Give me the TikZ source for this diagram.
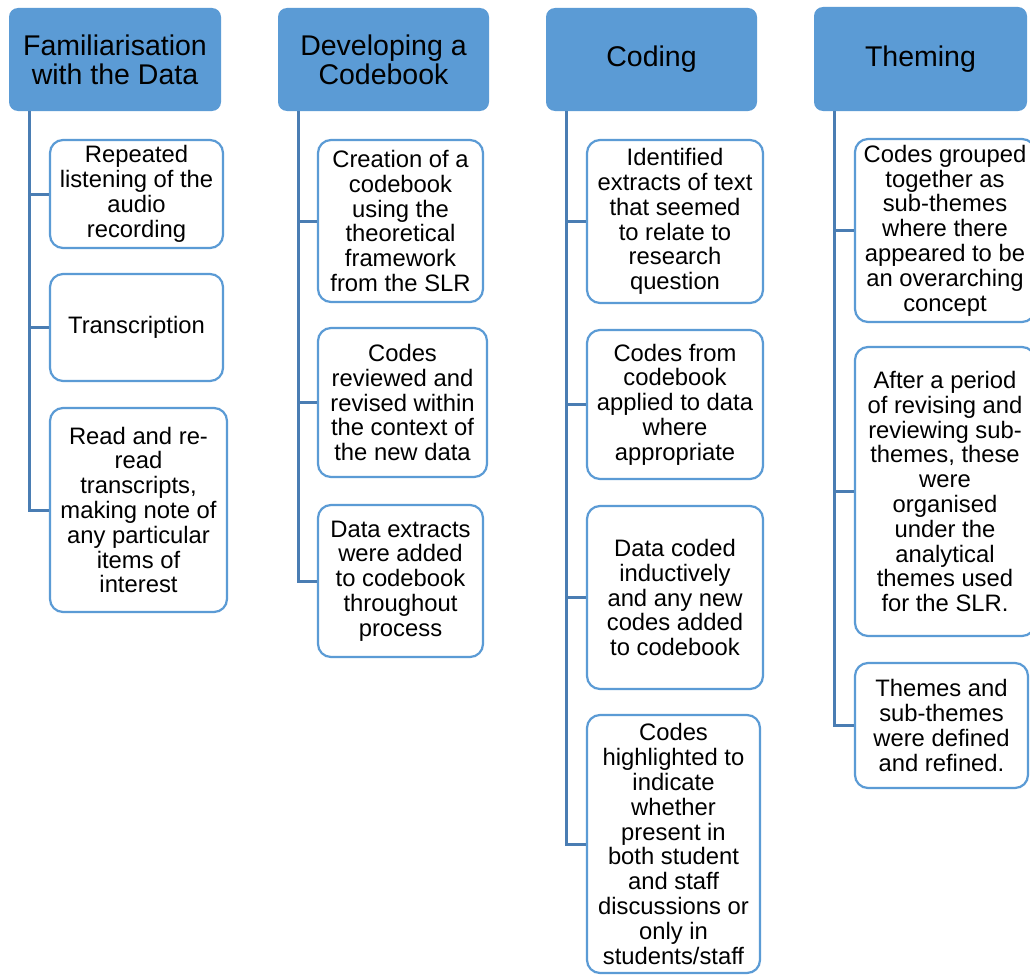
\documentclass[tikz,border=0pt]{standalone}
\usepackage{fontspec}
\setmainfont{Liberation Sans}
\definecolor{hdrc}{HTML}{5B9BD5}
\definecolor{brdc}{HTML}{5B9BD5}
\definecolor{lnkc}{HTML}{4A7DB3}
\tikzset{
  hdr/.style={fill=hdrc, draw=none, rounded corners=9pt, inner sep=0pt, align=center,
    font=\fontsize{28.5}{29}\selectfont, text=black},
  sub/.style={fill=white, draw=brdc, line width=2.2pt, rounded corners=13pt, inner sep=0pt,
    align=center, font=\fontsize{23.8}{24.8}\selectfont, text=black},
  conn/.style={draw=lnkc, line width=3pt},
}
\begin{document}
\begin{tikzpicture}[x=1pt,y=-1pt]
\clip (0,0) rectangle (1030,974);
\fill[white] (0,0) rectangle (1030,974);
% trunk x positions
\coordinate (t1) at (29,0);
\coordinate (t2) at (298,0);
\coordinate (t3) at (566,0);
\coordinate (t4) at (834,0);
% headers
\node[hdr, minimum width=212pt, minimum height=103pt] (h1) at (115,59.5) {Familiarisation\\with the Data};
\node[hdr, minimum width=211pt, minimum height=103pt] (h2) at (383.5,59.5) {Developing a\\Codebook};
\node[hdr, minimum width=211pt, minimum height=103pt] (h3) at (651.5,59.5) {\raisebox{-3pt}{Coding}};
\node[hdr, minimum width=213pt, minimum height=104pt] (h4) at (920.5,59) {\raisebox{-3pt}{Theming}};
% column 1
\node[sub, minimum width=173pt, minimum height=108pt] (c11) at (136.5,194) {Repeated\\listening of the\\audio\\recording};
\node[sub, minimum width=173pt, minimum height=107pt] (c12) at (136.5,327.5) {Transcription};
\node[sub, minimum width=177pt, minimum height=204pt] (c13) at (138.5,510) {Read and re-\\read\\transcripts,\\making note of\\any particular\\items of\\interest};
% column 2
\node[sub, minimum width=165pt, minimum height=162pt] (c21) at (400.5,221) {Creation of a\\codebook\\using the\\theoretical\\framework\\from the SLR};
\node[sub, minimum width=169pt, minimum height=149pt] (c22) at (402.5,402.5) {Codes\\reviewed and\\revised within\\the context of\\the new data};
\node[sub, minimum width=165pt, minimum height=152pt] (c23) at (400.5,581) {Data extracts\\were added\\to codebook\\throughout\\process};
% column 3
\node[sub, minimum width=176pt, minimum height=163pt] (c31) at (675,221.5) {Identified\\extracts of text\\that seemed\\to relate to\\research\\question};
\node[sub, minimum width=176pt, minimum height=149pt] (c32) at (675,404.5) {Codes from\\codebook\\applied to data\\where\\appropriate};
\node[sub, minimum width=176pt, minimum height=183pt] (c33) at (675,597.5) {Data coded\\inductively\\and any new\\codes added\\to codebook};
\node[sub, minimum width=173pt, minimum height=258pt] (c34) at (673.5,844) {Codes\\highlighted to\\indicate\\whether\\present in\\both student\\and staff\\discussions or\\only in\\students/staff};
% column 4
\node[sub, minimum width=180pt, minimum height=183pt] (c41) at (945,230.5) {Codes grouped\\together as\\sub-themes\\where there\\appeared to be\\an overarching\\concept};
\node[sub, minimum width=180pt, minimum height=289pt] (c42) at (945,491.5) {After a period\\of revising and\\reviewing sub-\\themes, these\\were\\organised\\under the\\analytical\\themes used\\for the SLR.};
\node[sub, minimum width=173pt, minimum height=125pt] (c43) at (941.5,725.5) {Themes and\\sub-themes\\were defined\\and refined.};
% connectors
\foreach \h/\t/\c in {h1/t1/c11,h1/t1/c12,h1/t1/c13,
                      h2/t2/c21,h2/t2/c22,h2/t2/c23,
                      h3/t3/c31,h3/t3/c32,h3/t3/c33,h3/t3/c34,
                      h4/t4/c41,h4/t4/c42,h4/t4/c43}
  \draw[conn] (\h.south -| \t) |- (\c.west);
\end{tikzpicture}
\end{document}
